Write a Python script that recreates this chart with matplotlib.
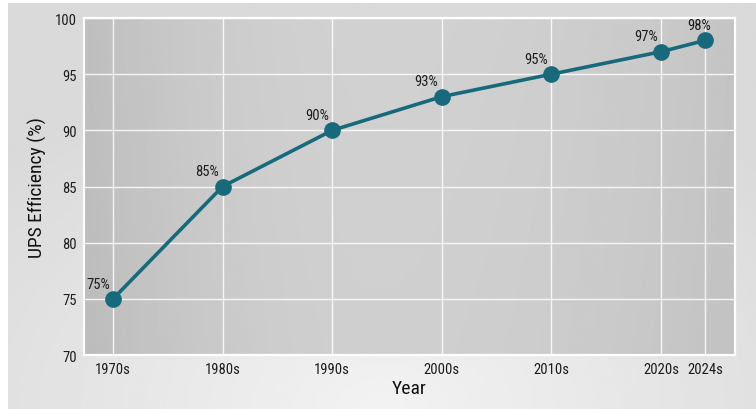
import matplotlib
matplotlib.use("Agg")
import matplotlib.pyplot as plt
import numpy as np
from matplotlib import font_manager

# prefer a narrow face for the labels
names = {f.name for f in font_manager.fontManager.ttflist}
FONT = "DejaVu Sans"
for cand in ["Roboto Condensed", "Liberation Sans Narrow", "Open Sans Condensed"]:
    if cand in names:
        FONT = cand
        break
plt.rcParams["font.family"] = [FONT, "DejaVu Sans"]
plt.rcParams["font.stretch"] = "condensed"

years = [1970, 1980, 1990, 2000, 2010, 2020, 2024]
year_labels = ["1970s", "1980s", "1990s", "2000s", "2010s", "2020s", "2024s"]
efficiency = [75, 85, 90, 93, 95, 97, 98]

LINE = "#176a7b"
TXT = "#1c1c1c"

fig = plt.figure(figsize=(7.56, 4.10), dpi=100)
fig.patch.set_facecolor("white")

# soft radial backdrop, lighter toward the bottom middle
bg = fig.add_axes([8 / 756, 0, 1 - 8 / 756, 1 - 4 / 410], zorder=0)
yy, xx = np.mgrid[0:1:200j, 0:1:370j]
r = np.sqrt(((xx - 0.5) / 0.8) ** 2 + ((yy - 0.0) / 1.0) ** 2)
shade = np.clip(0.95 - 0.11 * r, 0.855, 0.95)
bg.imshow(shade, cmap="gray", vmin=0, vmax=1, aspect="auto", origin="lower",
          extent=[0, 1, 0, 1], interpolation="bilinear")
bg.axis("off")

ax = fig.add_axes([84 / 756, 54 / 410, (735 - 84) / 756, (356 - 19) / 410], zorder=1)
ax.set_xlim(1967.35, 2026.75)
ax.set_ylim(70, 100)

# plot-area shading: darker at the left edge, lightest a bit left of centre
px = np.linspace(0, 1, 300)
py = np.linspace(0, 1, 120)
PX, PY = np.meshgrid(px, py)
edge = np.where(PX < 0.45, 0.075 * ((PX - 0.45) / 0.45) ** 2,
                0.05 * ((PX - 0.45) / 0.55) ** 2)
panel = 0.815 - edge + 0.008 * (PY - 0.5)
ax.imshow(panel, cmap="gray", vmin=0, vmax=1, aspect="auto", origin="lower",
          extent=[1967.35, 2026.75, 70, 100], interpolation="bilinear", zorder=0)

ax.grid(True, color="white", lw=1.0, alpha=0.85, zorder=1)
ax.set_axisbelow(False)
for s in ax.spines.values():
    s.set_color("white")
    s.set_linewidth(1.6)

ax.plot(years, efficiency, color=LINE, lw=2.6, marker="o", ms=11, zorder=3)
for x, y in zip(years, efficiency):
    dx = -4 if x == 2024 else -11
    ax.annotate(f"{y}%", (x, y), xytext=(dx, 6), textcoords="offset points",
                ha="center", va="bottom", fontsize=10.5, color=TXT, zorder=4)

ax.set_xticks(years)
ax.set_xticklabels(year_labels)
ax.set_yticks(range(70, 101, 5))
ax.tick_params(length=0, labelsize=10.5, colors=TXT, pad=5)
ax.set_xlabel("Year", fontsize=14, color="#111111", labelpad=2)
ax.set_ylabel("UPS Efficiency (%)", fontsize=14, color="#111111", labelpad=6)

fig.savefig("out.png", dpi=100)
